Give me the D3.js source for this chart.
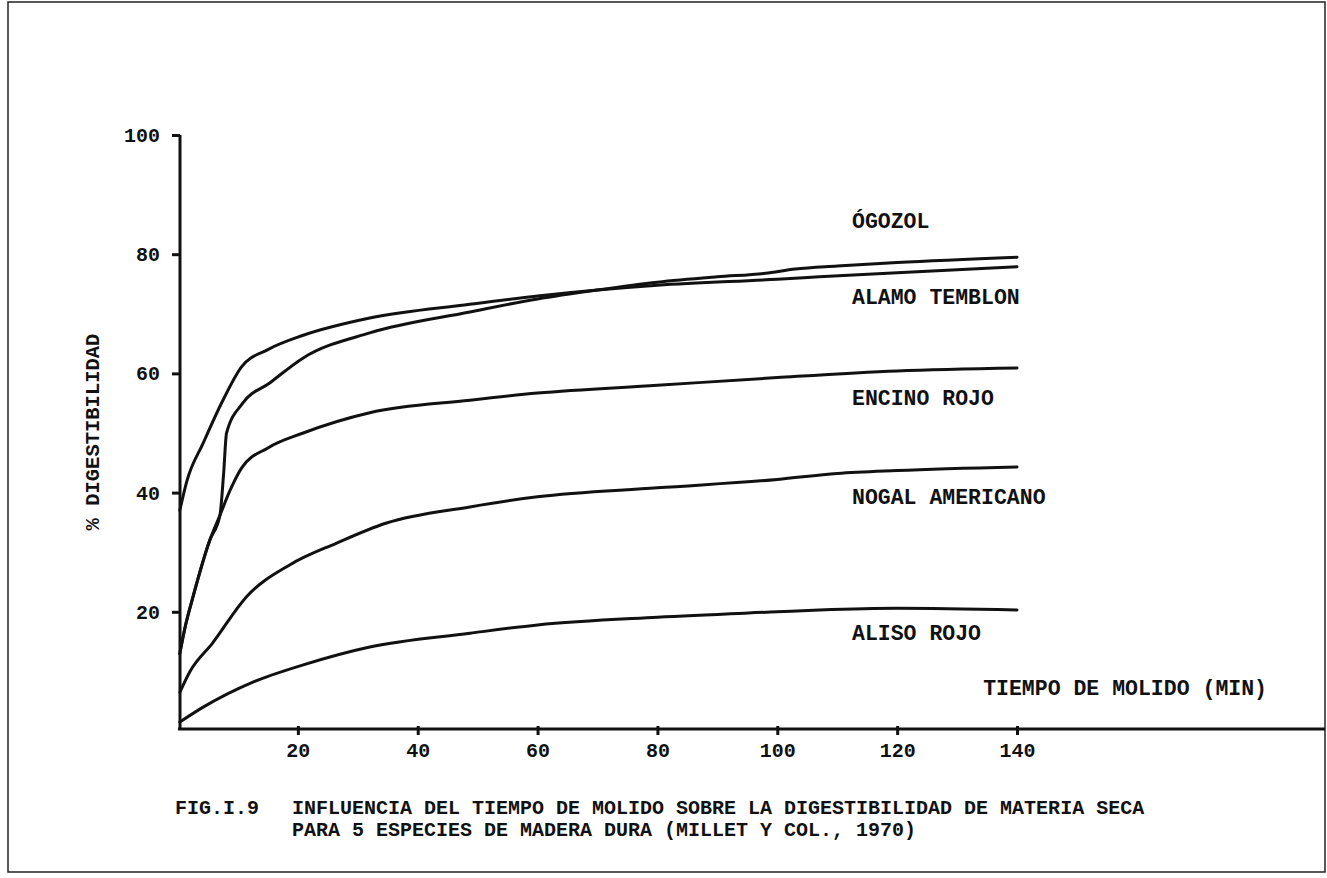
<!DOCTYPE html>
<html>
<head>
<meta charset="utf-8">
<script src="https://cdn.jsdelivr.net/npm/d3@7"></script>
<style>
  html, body { margin: 0; padding: 0; background: #fff; }
  svg { display: block; }
  text { font-family: "Liberation Mono", "DejaVu Sans Mono", monospace; font-weight: bold; fill: #111; }
</style>
</head>
<body>
<svg id="chart" width="1327" height="878"></svg>
<script>
// ---- data ----
const seriesNames = ["ÓGOZOL", "ALAMO TEMBLON", "ENCINO ROJO", "NOGAL AMERICANO", "ALISO ROJO"];

const ogozolTime = [0.3, 1.2, 2.5, 5.3, 7, 7.6, 8.1, 10.8, 15.3, 20.9, 32, 48.7, 60, 70, 80, 90, 98, 103, 110, 120, 140];
const ogozolVal  = [13, 17.5, 22.5, 32, 36.2, 43, 50, 55, 58.4, 62.6, 66.8, 70.3, 72.5, 74, 75.3, 76.2, 76.8, 77.5, 78.0, 78.6, 79.5];

const alamoTime = [0.3, 1.5, 4.2, 7.5, 10.6, 15, 20.9, 32, 48.7, 60, 70, 80, 100, 107, 120, 140];
const alamoVal  = [37, 42, 48.3, 55.5, 61.1, 64, 66.4, 69.3, 71.6, 73, 74, 74.8, 75.8, 76.2, 76.9, 77.9];

const encinoTime = [0.3, 1.2, 2.5, 5.3, 7, 8.7, 10.6, 15, 20.9, 32, 48.7, 60, 80, 100, 120, 140];
const encinoVal  = [13, 17.5, 22.5, 32, 36.2, 40.4, 44.1, 47.5, 50, 53.4, 55.5, 56.7, 58, 59.3, 60.4, 60.9];

const nogalTime = [0.3, 2, 5.8, 11.4, 18.7, 26.4, 34.8, 48.7, 60, 80, 100, 110, 120, 140];
const nogalVal  = [6.5, 10, 14.8, 22.5, 27.9, 31.5, 34.9, 37.6, 39.3, 40.8, 42.2, 43.2, 43.7, 44.3];

const alisoTime = [0.3, 4.2, 12.5, 20.9, 32, 48.7, 60, 80, 100, 107, 120, 140];
const alisoVal  = [1.5, 4, 8.2, 11.1, 14.1, 16.4, 17.8, 19.1, 20.0, 20.3, 20.6, 20.3];

const xTicks = [20, 40, 60, 80, 100, 120, 140];
const yTicks = [20, 40, 60, 80, 100];

const xTitle = "TIEMPO DE MOLIDO (MIN)";
const yTitle = "% DIGESTIBILIDAD";
const figLabel = "FIG.I.9";
const captionLines = [
  "INFLUENCIA DEL TIEMPO DE MOLIDO SOBRE LA DIGESTIBILIDAD DE MATERIA SECA",
  "PARA 5 ESPECIES DE MADERA DURA (MILLET Y COL., 1970)"
];

// ---- drawing ----
const svg = d3.select("#chart");
const x = d3.scaleLinear().domain([0, 140]).range([178, 1017]);
const y = d3.scaleLinear().domain([0, 100]).range([731, 135]);

// frame
svg.append("rect").attr("x", 8).attr("y", 2).attr("width", 1317).attr("height", 870)
  .attr("fill", "none").attr("stroke", "#222").attr("stroke-width", 1.5);

const ink = "#111";

// y axis
const yAxis = svg.append("g").attr("transform", `translate(${x(0) + 2},0)`)
  .call(d3.axisLeft(y).tickValues(yTicks).tickSize(8).tickPadding(12).tickFormat(d3.format("d")));
yAxis.select(".domain").remove();
yAxis.selectAll("line").attr("stroke", ink).attr("stroke-width", 3);
yAxis.selectAll("text").style("font-size", "20px").attr("fill", ink);
svg.append("line").attr("x1", x(0) + 2).attr("x2", x(0) + 2).attr("y1", y(100)).attr("y2", 729)
  .attr("stroke", ink).attr("stroke-width", 3);

// x axis
const xAxis = svg.append("g").attr("transform", `translate(0,729)`)
  .call(d3.axisBottom(x).tickValues(xTicks).tickSizeInner(6).tickSizeOuter(0).tickPadding(8).tickFormat(d3.format("d")));
xAxis.select(".domain").remove();
xAxis.selectAll("line").attr("stroke", ink).attr("stroke-width", 3).attr("y1", -3);
xAxis.selectAll("text").style("font-size", "20px").attr("fill", ink);
svg.append("line").attr("x1", x(0)).attr("x2", 1325).attr("y1", 729).attr("y2", 729)
  .attr("stroke", ink).attr("stroke-width", 3);

// curves
const series = [
  { name: seriesNames[0], t: ogozolTime, v: ogozolVal },
  { name: seriesNames[1], t: alamoTime, v: alamoVal },
  { name: seriesNames[2], t: encinoTime, v: encinoVal },
  { name: seriesNames[3], t: nogalTime, v: nogalVal },
  { name: seriesNames[4], t: alisoTime, v: alisoVal }
];
const line = d3.line().x(d => x(d[0])).y(d => y(d[1])).curve(d3.curveMonotoneX);
series.forEach(s => {
  svg.append("path").datum(s.t.map((t, i) => [t, s.v[i]]))
    .attr("d", line).attr("fill", "none").attr("stroke", ink)
    .attr("stroke-width", 3).attr("stroke-linejoin", "round").attr("stroke-linecap", "round");
});

// series labels
const labelPos = [[852, 228], [852, 304], [852, 405], [852, 504], [852, 640]];
series.forEach((s, i) => {
  svg.append("text").attr("x", labelPos[i][0]).attr("y", labelPos[i][1])
    .style("font-size", "21.5px").text(s.name);
});

// axis titles
svg.append("text").attr("x", 1267).attr("y", 695).attr("text-anchor", "end")
  .style("font-size", "21.5px").text(xTitle);
svg.append("text").attr("transform", "translate(99,432) rotate(-90)").attr("text-anchor", "middle")
  .style("font-size", "20.5px").text(yTitle);

// caption
svg.append("text").attr("x", 175).attr("y", 814).style("font-size", "20px").text(figLabel);
captionLines.forEach((c, i) => {
  svg.append("text").attr("x", 292).attr("y", 814 + i * 22)
    .style("font-size", "20px").text(c);
});
</script>
</body>
</html>
